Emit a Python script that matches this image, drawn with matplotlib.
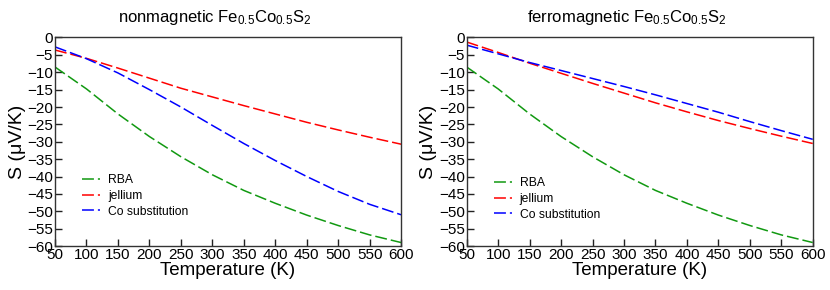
import matplotlib
matplotlib.use("Agg")
import matplotlib.pyplot as plt

plt.rcParams['font.family'] = ['Liberation Sans', 'DejaVu Sans']
plt.rcParams['mathtext.fontset'] = 'custom'
plt.rcParams['mathtext.rm'] = 'Liberation Sans'
plt.rcParams['mathtext.it'] = 'Liberation Sans:italic'

# temperatures (K)
temps = [50, 100, 150, 200, 250, 300, 350, 400, 450, 500, 550, 600]

# nonmagnetic Fe0.5Co0.5S2, Seebeck coefficient (uV/K)
nm_rba = [-8.5, -14.8, -22.0, -28.5, -34.3, -39.5, -44.0, -47.7, -51.1, -54.1, -56.8, -59.0]
nm_jellium = [-3.6, -6.0, -8.8, -11.7, -14.6, -17.1, -19.6, -22.0, -24.4, -26.6, -28.7, -30.7]
nm_cosub = [-2.7, -6.1, -10.2, -15.0, -20.0, -25.3, -30.5, -35.4, -40.0, -44.3, -48.0, -51.0]

# ferromagnetic Fe0.5Co0.5S2
fm_rba = [-8.5, -14.8, -22.0, -28.5, -34.3, -39.5, -44.0, -47.7, -51.1, -54.1, -56.8, -59.0]
fm_jellium = [-1.3, -4.3, -7.4, -10.3, -13.2, -16.0, -18.8, -21.4, -23.9, -26.2, -28.4, -30.5]
fm_cosub = [-2.2, -4.7, -7.2, -9.5, -11.8, -14.1, -16.5, -19.0, -21.5, -24.2, -26.8, -29.3]

labels = ["RBA", "jellium", "Co substitution"]
colors = ["#119911", "#ff0000", "#0000ff"]

panels = [
    (r"nonmagnetic Fe$_{0.5}$Co$_{0.5}$S$_2$", [nm_rba, nm_jellium, nm_cosub], 0.24),
    (r"ferromagnetic Fe$_{0.5}$Co$_{0.5}$S$_2$", [fm_rba, fm_jellium, fm_cosub], 0.225),
]

fig = plt.figure(figsize=(8.3, 2.9), dpi=100)
lefts = [0.0663, 0.5623]

for left, (title, series, leg_y) in zip(lefts, panels):
    ax = fig.add_axes([left, 0.1517, 0.4169, 0.719])
    for vals, lab, c in zip(series, labels, colors):
        ax.plot(temps, vals, color=c, lw=1.1, dashes=(7.8, 2.6), label=lab)

    ax.set_xlim(50, 600)
    ax.set_ylim(-60, 0)
    ax.set_xticks(range(50, 601, 50))
    ax.set_yticks(range(-60, 1, 5))
    ax.tick_params(direction='in', length=5, width=1, pad=1.5,
                   labelsize=11, top=False, right=False, colors='#222222',
                   labelcolor='black')
    for sp in ax.spines.values():
        sp.set_color('#333333')
        sp.set_linewidth(1.0)

    ax.set_xlabel("Temperature (K)", fontsize=13.5, labelpad=0)
    ax.set_ylabel("S (μV/K)", fontsize=14, labelpad=1)
    ax.set_title(title, fontsize=12, x=0.462, pad=11)

    ax.legend(loc='center left', bbox_to_anchor=(0.078, leg_y), frameon=False,
              fontsize=8.7, handlelength=1.5, handletextpad=0.65,
              labelspacing=0.3, borderpad=0, borderaxespad=0)

fig.savefig("out.png", dpi=100)
